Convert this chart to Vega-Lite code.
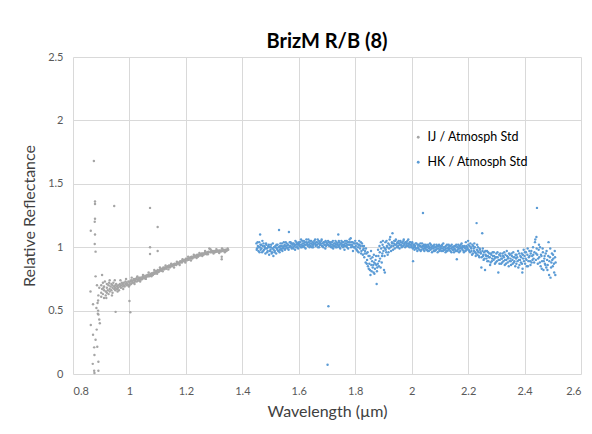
{
"$schema":"https://vega.github.io/schema/vega-lite/v6.json",
"width":508,"height":317,"autosize":{"type":"none"},
"padding":{"left":73,"top":57,"right":11,"bottom":60},
"background":"white",
"title":{"text":"BrizM R/B (8)","fontSize":20,"fontWeight":"bold","font":"Lato","color":"#000000","offset":-1,"anchor":"middle"},
"datasets":{
"ij":[
{"w":0.874,"r":1.68},{"w":0.878,"r":1.36},{"w":0.878,"r":1.34},{"w":0.946,"r":1.325},{"w":1.073,"r":1.31},{"w":0.878,"r":1.225},{"w":0.877,"r":1.2},{"w":0.863,"r":1.13},{"w":0.878,"r":1.1},{"w":1.1,"r":1.16},{"w":0.877,"r":1.025},{"w":1.073,"r":1.0},{"w":0.88,"r":0.965},{"w":1.073,"r":0.946},{"w":1.1,"r":0.97},{"w":0.88,"r":0.77},{"w":0.903,"r":0.78},{"w":0.862,"r":0.65},{"w":0.871,"r":0.55},{"w":0.889,"r":0.58},{"w":0.888,"r":0.475},{"w":0.889,"r":0.5},{"w":0.951,"r":0.49},{"w":1.003,"r":0.487},{"w":1.0,"r":0.575},{"w":0.895,"r":0.4},{"w":0.863,"r":0.386},{"w":0.871,"r":0.31},{"w":0.886,"r":0.215},{"w":0.875,"r":0.21},{"w":0.876,"r":0.15},{"w":0.89,"r":0.097},{"w":0.87,"r":0.08},{"w":0.875,"r":0.026},{"w":0.89,"r":0.026},{"w":0.876,"r":0.008},{"w":1.327,"r":0.925},{"w":1.327,"r":0.905},{"w":0.884,"r":0.35},{"w":0.893,"r":0.43},{"w":0.88,"r":0.27},
{"w":0.885,"r":0.7},{"w":0.89,"r":0.62},{"w":0.887,"r":0.56},{"w":0.893,"r":0.68},{"w":0.883,"r":0.52},{"w":0.89,"r":0.47},
{"w":0.9,"r":0.7},{"w":0.9,"r":0.64},{"w":0.9,"r":0.61},{"w":0.903,"r":0.67},{"w":0.906,"r":0.72},{"w":0.906,"r":0.63},{"w":0.91,"r":0.69},{"w":0.91,"r":0.6},{"w":0.91,"r":0.66},{"w":0.913,"r":0.73},{"w":0.916,"r":0.65},{"w":0.916,"r":0.62},{"w":0.92,"r":0.68},{"w":0.92,"r":0.71},{"w":0.92,"r":0.64},{"w":0.923,"r":0.66},{"w":0.926,"r":0.7},{"w":0.926,"r":0.63},{"w":0.93,"r":0.67},{"w":0.93,"r":0.74},{"w":0.93,"r":0.65},{"w":0.933,"r":0.69},{"w":0.936,"r":0.66},{"w":0.936,"r":0.71},{"w":0.94,"r":0.68},{"w":0.94,"r":0.64},{"w":0.94,"r":0.7},{"w":0.943,"r":0.72},{"w":0.946,"r":0.67},{"w":0.946,"r":0.69},{"w":0.95,"r":0.7},{"w":0.95,"r":0.66},{"w":0.95,"r":0.68},{"w":0.953,"r":0.71},{"w":0.956,"r":0.67},{"w":0.956,"r":0.69},{"w":0.96,"r":0.7},{"w":0.96,"r":0.68},{"w":0.963,"r":0.66},{"w":0.966,"r":0.71},{"w":0.966,"r":0.69},{"w":0.97,"r":0.7},{"w":0.97,"r":0.68},{"w":0.973,"r":0.72},{"w":0.976,"r":0.69},{"w":0.976,"r":0.71},{"w":0.98,"r":0.7},{"w":0.98,"r":0.72},{"w":0.983,"r":0.69},{"w":0.986,"r":0.71},{"w":0.986,"r":0.73},{"w":0.99,"r":0.7},{"w":0.99,"r":0.72},{"w":0.993,"r":0.71},{"w":0.996,"r":0.73},{"w":0.996,"r":0.7},
{"w":1.0,"r":0.72},{"w":1.0,"r":0.7},{"w":1.003,"r":0.73},{"w":1.006,"r":0.71},{"w":1.006,"r":0.74},{"w":1.01,"r":0.73},{"w":1.01,"r":0.72},{"w":1.013,"r":0.74},{"w":1.016,"r":0.72},{"w":1.016,"r":0.75},{"w":1.02,"r":0.74},{"w":1.02,"r":0.73},{"w":1.023,"r":0.75},{"w":1.026,"r":0.73},{"w":1.026,"r":0.76},{"w":1.03,"r":0.745},{"w":1.03,"r":0.735},{"w":1.033,"r":0.755},{"w":1.036,"r":0.74},{"w":1.036,"r":0.76},{"w":1.04,"r":0.75},{"w":1.04,"r":0.76},{"w":1.043,"r":0.745},{"w":1.046,"r":0.765},{"w":1.046,"r":0.75},{"w":1.05,"r":0.76},{"w":1.05,"r":0.77},{"w":1.053,"r":0.755},{"w":1.056,"r":0.775},{"w":1.056,"r":0.76},{"w":1.06,"r":0.77},{"w":1.06,"r":0.765},{"w":1.063,"r":0.78},{"w":1.066,"r":0.77},{"w":1.066,"r":0.78},{"w":1.07,"r":0.785},{"w":1.07,"r":0.77},{"w":1.073,"r":0.775},{"w":1.076,"r":0.79},{"w":1.076,"r":0.78},{"w":1.08,"r":0.785},{"w":1.08,"r":0.795},{"w":1.083,"r":0.78},{"w":1.086,"r":0.8},{"w":1.086,"r":0.79},{"w":1.09,"r":0.8},{"w":1.09,"r":0.79},{"w":1.093,"r":0.81},{"w":1.096,"r":0.8},{"w":1.096,"r":0.81},
{"w":1.1,"r":0.81},{"w":1.1,"r":0.82},{"w":1.103,"r":0.805},{"w":1.106,"r":0.82},{"w":1.106,"r":0.81},{"w":1.11,"r":0.82},{"w":1.11,"r":0.83},{"w":1.113,"r":0.815},{"w":1.116,"r":0.83},{"w":1.116,"r":0.825},{"w":1.12,"r":0.83},{"w":1.12,"r":0.84},{"w":1.123,"r":0.825},{"w":1.126,"r":0.835},{"w":1.126,"r":0.84},{"w":1.13,"r":0.84},{"w":1.13,"r":0.83},{"w":1.133,"r":0.845},{"w":1.136,"r":0.84},{"w":1.136,"r":0.85},{"w":1.14,"r":0.845},{"w":1.14,"r":0.855},{"w":1.143,"r":0.84},{"w":1.146,"r":0.85},{"w":1.146,"r":0.86},{"w":1.15,"r":0.855},{"w":1.15,"r":0.85},{"w":1.153,"r":0.86},{"w":1.156,"r":0.855},{"w":1.156,"r":0.865},{"w":1.16,"r":0.86},{"w":1.16,"r":0.87},{"w":1.163,"r":0.865},{"w":1.166,"r":0.87},{"w":1.166,"r":0.86},{"w":1.17,"r":0.87},{"w":1.17,"r":0.88},{"w":1.173,"r":0.875},{"w":1.176,"r":0.88},{"w":1.176,"r":0.87},{"w":1.18,"r":0.88},{"w":1.18,"r":0.89},{"w":1.183,"r":0.885},{"w":1.186,"r":0.89},{"w":1.186,"r":0.88},{"w":1.19,"r":0.89},{"w":1.19,"r":0.9},{"w":1.193,"r":0.895},{"w":1.196,"r":0.9},{"w":1.196,"r":0.89},
{"w":1.2,"r":0.9},{"w":1.2,"r":0.91},{"w":1.203,"r":0.895},{"w":1.206,"r":0.91},{"w":1.206,"r":0.905},{"w":1.21,"r":0.91},{"w":1.21,"r":0.9},{"w":1.213,"r":0.915},{"w":1.216,"r":0.91},{"w":1.216,"r":0.92},{"w":1.22,"r":0.915},{"w":1.22,"r":0.925},{"w":1.223,"r":0.91},{"w":1.226,"r":0.92},{"w":1.226,"r":0.925},{"w":1.23,"r":0.92},{"w":1.23,"r":0.93},{"w":1.233,"r":0.925},{"w":1.236,"r":0.93},{"w":1.236,"r":0.935},{"w":1.24,"r":0.93},{"w":1.24,"r":0.94},{"w":1.243,"r":0.925},{"w":1.246,"r":0.935},{"w":1.246,"r":0.94},{"w":1.25,"r":0.94},{"w":1.25,"r":0.935},{"w":1.253,"r":0.945},{"w":1.256,"r":0.94},{"w":1.256,"r":0.95},{"w":1.26,"r":0.945},{"w":1.26,"r":0.95},{"w":1.263,"r":0.94},{"w":1.266,"r":0.955},{"w":1.266,"r":0.95},{"w":1.27,"r":0.95},{"w":1.27,"r":0.96},{"w":1.273,"r":0.945},{"w":1.276,"r":0.96},{"w":1.276,"r":0.955},{"w":1.28,"r":0.96},{"w":1.28,"r":0.965},{"w":1.283,"r":0.99},{"w":1.286,"r":0.96},{"w":1.286,"r":0.985},{"w":1.29,"r":0.965},{"w":1.29,"r":0.96},{"w":1.293,"r":0.97},{"w":1.296,"r":0.96},{"w":1.296,"r":0.965},
{"w":1.3,"r":0.965},{"w":1.3,"r":0.97},{"w":1.303,"r":0.96},{"w":1.306,"r":0.97},{"w":1.306,"r":0.965},{"w":1.31,"r":0.97},{"w":1.31,"r":0.965},{"w":1.313,"r":0.975},{"w":1.316,"r":0.965},{"w":1.316,"r":0.97},{"w":1.32,"r":0.97},{"w":1.32,"r":0.975},{"w":1.323,"r":0.965},{"w":1.326,"r":0.975},{"w":1.326,"r":0.97},{"w":1.33,"r":0.97},{"w":1.33,"r":0.975},{"w":1.333,"r":0.98},{"w":1.336,"r":0.97},{"w":1.336,"r":0.975},{"w":1.34,"r":0.975},{"w":1.34,"r":0.98},{"w":1.343,"r":0.97},{"w":1.346,"r":0.98},{"w":1.346,"r":0.975},{"w":1.35,"r":0.98},
{"w":0.908,"r":0.68},{"w":0.918,"r":0.6},{"w":0.928,"r":0.72},{"w":0.938,"r":0.62},{"w":0.948,"r":0.74},{"w":0.958,"r":0.65},{"w":0.968,"r":0.74},{"w":0.978,"r":0.67},{"w":0.988,"r":0.75},{"w":0.998,"r":0.69},{"w":1.008,"r":0.76},{"w":1.018,"r":0.71},{"w":1.028,"r":0.77},{"w":1.038,"r":0.73},{"w":1.048,"r":0.78},{"w":1.058,"r":0.75},{"w":1.068,"r":0.8},{"w":1.078,"r":0.77},{"w":1.088,"r":0.82},{"w":1.098,"r":0.79},{"w":1.108,"r":0.84},{"w":1.118,"r":0.81},{"w":1.128,"r":0.855},{"w":1.138,"r":0.825},{"w":1.148,"r":0.87},{"w":1.158,"r":0.84},{"w":1.168,"r":0.885},{"w":1.178,"r":0.86},{"w":1.188,"r":0.905},{"w":1.198,"r":0.88},{"w":1.208,"r":0.925},{"w":1.218,"r":0.895},{"w":1.228,"r":0.94},{"w":1.238,"r":0.915},{"w":1.248,"r":0.955},{"w":1.258,"r":0.93},{"w":1.268,"r":0.97},{"w":1.278,"r":0.945},{"w":1.288,"r":0.98},{"w":1.298,"r":0.95},{"w":1.308,"r":0.985},{"w":1.318,"r":0.955},{"w":1.328,"r":0.99},{"w":1.338,"r":0.96},{"w":1.348,"r":0.99}
],
"hk":[
{"w":1.45,"r":1.03},{"w":1.452,"r":0.99},{"w":1.455,"r":1.01},{"w":1.457,"r":0.97},{"w":1.46,"r":1.04},{"w":1.462,"r":1.0},{"w":1.463,"r":1.1},{"w":1.465,"r":0.98},{"w":1.467,"r":1.02},{"w":1.47,"r":0.96},{"w":1.472,"r":1.01},{"w":1.475,"r":1.03},{"w":1.477,"r":0.98},{"w":1.48,"r":1.0},{"w":1.482,"r":0.95},{"w":1.485,"r":1.02},{"w":1.487,"r":0.99},{"w":1.49,"r":0.97},{"w":1.492,"r":1.01},{"w":1.495,"r":0.94},{"w":1.497,"r":1.0},
{"w":1.5,"r":0.98},{"w":1.502,"r":1.02},{"w":1.505,"r":0.96},{"w":1.507,"r":0.99},{"w":1.51,"r":0.93},{"w":1.512,"r":1.0},{"w":1.515,"r":0.97},{"w":1.517,"r":1.01},{"w":1.52,"r":0.95},{"w":1.522,"r":0.99},{"w":1.525,"r":1.02},{"w":1.527,"r":0.97},{"w":1.53,"r":1.135},{"w":1.531,"r":1.0},{"w":1.533,"r":0.98},{"w":1.535,"r":1.03},{"w":1.537,"r":0.99},{"w":1.54,"r":1.01},{"w":1.542,"r":0.97},{"w":1.545,"r":1.0},{"w":1.547,"r":1.04},{"w":1.55,"r":1.02},{"w":1.552,"r":0.99},
{"w":1.555,"r":1.01},{"w":1.557,"r":1.03},{"w":1.56,"r":0.99},{"w":1.562,"r":1.02},{"w":1.565,"r":1.12},{"w":1.566,"r":1.0},{"w":1.568,"r":1.04},{"w":1.57,"r":1.01},{"w":1.572,"r":1.03},{"w":1.575,"r":0.99},{"w":1.577,"r":1.02},{"w":1.58,"r":1.0},{"w":1.582,"r":1.03},{"w":1.585,"r":1.01},{"w":1.587,"r":0.98},{"w":1.59,"r":1.02},{"w":1.592,"r":1.04},{"w":1.595,"r":1.0},{"w":1.597,"r":1.02},
{"w":1.6,"r":1.03},{"w":1.602,"r":1.01},{"w":1.605,"r":1.04},{"w":1.607,"r":1.0},{"w":1.61,"r":1.02},{"w":1.612,"r":1.05},{"w":1.615,"r":1.01},{"w":1.617,"r":1.03},{"w":1.62,"r":1.0},{"w":1.622,"r":1.04},{"w":1.625,"r":1.02},{"w":1.627,"r":1.06},{"w":1.63,"r":1.03},{"w":1.632,"r":1.01},{"w":1.635,"r":1.04},{"w":1.637,"r":1.02},{"w":1.64,"r":1.05},{"w":1.642,"r":1.01},{"w":1.645,"r":1.03},{"w":1.647,"r":1.0},{"w":1.65,"r":1.04},{"w":1.652,"r":1.02},
{"w":1.655,"r":1.05},{"w":1.657,"r":1.03},{"w":1.66,"r":1.01},{"w":1.662,"r":1.04},{"w":1.665,"r":1.02},{"w":1.667,"r":1.06},{"w":1.67,"r":1.03},{"w":1.672,"r":1.0},{"w":1.675,"r":1.04},{"w":1.677,"r":1.02},{"w":1.68,"r":1.05},{"w":1.682,"r":1.01},{"w":1.685,"r":1.03},{"w":1.687,"r":1.0},{"w":1.69,"r":1.04},{"w":1.692,"r":1.02},{"w":1.695,"r":1.05},{"w":1.697,"r":1.01},{"w":1.7,"r":1.03},{"w":1.705,"r":0.534},{"w":1.702,"r":0.073},
{"w":1.705,"r":1.02},{"w":1.707,"r":1.04},{"w":1.71,"r":1.01},{"w":1.712,"r":1.03},{"w":1.715,"r":1.0},{"w":1.717,"r":1.04},{"w":1.72,"r":1.02},{"w":1.722,"r":0.99},{"w":1.725,"r":1.03},{"w":1.727,"r":1.01},{"w":1.73,"r":1.05},{"w":1.732,"r":1.02},{"w":1.735,"r":1.0},{"w":1.737,"r":1.03},{"w":1.74,"r":1.1},{"w":1.741,"r":1.01},{"w":1.743,"r":1.04},{"w":1.745,"r":1.02},{"w":1.747,"r":0.99},{"w":1.75,"r":1.03},{"w":1.752,"r":1.01},
{"w":1.755,"r":1.04},{"w":1.757,"r":1.0},{"w":1.76,"r":1.02},{"w":1.762,"r":0.98},{"w":1.765,"r":1.03},{"w":1.767,"r":1.01},{"w":1.77,"r":1.05},{"w":1.772,"r":1.02},{"w":1.775,"r":0.99},{"w":1.777,"r":1.04},{"w":1.78,"r":1.06},{"w":1.782,"r":1.02},{"w":1.785,"r":1.0},{"w":1.787,"r":1.04},{"w":1.79,"r":1.01},{"w":1.792,"r":0.97},{"w":1.795,"r":1.03},{"w":1.797,"r":1.0},{"w":1.8,"r":1.05},{"w":1.802,"r":1.01},
{"w":1.805,"r":0.98},{"w":1.807,"r":1.03},{"w":1.81,"r":1.0},{"w":1.812,"r":0.96},{"w":1.815,"r":1.02},{"w":1.817,"r":0.99},{"w":1.82,"r":1.04},{"w":1.822,"r":0.97},{"w":1.825,"r":1.01},{"w":1.827,"r":0.94},{"w":1.83,"r":0.99},{"w":1.832,"r":0.92},{"w":1.835,"r":0.97},{"w":1.837,"r":0.88},{"w":1.84,"r":0.95},{"w":1.842,"r":0.9},{"w":1.845,"r":0.85},{"w":1.847,"r":0.93},{"w":1.85,"r":0.87},{"w":1.852,"r":0.82},{"w":1.855,"r":0.91},{"w":1.857,"r":0.86},{"w":1.86,"r":0.89},{"w":1.862,"r":0.84},{"w":1.865,"r":0.8},{"w":1.867,"r":0.88},{"w":1.87,"r":0.83},{"w":1.872,"r":0.9},{"w":1.875,"r":0.86},{"w":1.876,"r":0.71},{"w":1.877,"r":0.81},{"w":1.88,"r":0.87},{"w":1.882,"r":0.93},{"w":1.885,"r":0.89},{"w":1.887,"r":0.96},{"w":1.89,"r":0.84},{"w":1.892,"r":0.99},{"w":1.895,"r":0.93},{"w":1.897,"r":1.02},{"w":1.9,"r":0.97},{"w":1.902,"r":0.82},{"w":1.905,"r":0.8},{"w":1.906,"r":0.99},{"w":1.907,"r":1.04},{"w":1.91,"r":0.96},{"w":1.912,"r":1.01},{"w":1.915,"r":0.94},{"w":1.917,"r":1.03},{"w":1.92,"r":0.99},{"w":1.922,"r":1.06},{"w":1.925,"r":1.0},{"w":1.927,"r":0.97},{"w":1.93,"r":1.04},{"w":1.932,"r":1.11},{"w":1.935,"r":1.01},{"w":1.937,"r":1.03},
{"w":1.94,"r":0.99},{"w":1.942,"r":1.05},{"w":1.945,"r":1.02},{"w":1.947,"r":1.0},{"w":1.95,"r":1.04},{"w":1.952,"r":1.01},{"w":1.955,"r":1.03},{"w":1.957,"r":0.99},{"w":1.96,"r":1.05},{"w":1.962,"r":1.02},{"w":1.965,"r":1.0},{"w":1.967,"r":1.04},{"w":1.97,"r":1.01},{"w":1.972,"r":1.06},{"w":1.975,"r":1.03},{"w":1.977,"r":1.0},{"w":1.98,"r":1.04},{"w":1.982,"r":1.02},{"w":1.985,"r":1.05},{"w":1.987,"r":1.01},{"w":1.99,"r":1.03},{"w":1.992,"r":1.0},{"w":1.995,"r":1.04},{"w":1.997,"r":1.02},
{"w":2.0,"r":1.01},{"w":2.002,"r":1.04},{"w":2.005,"r":0.89},{"w":2.006,"r":1.0},{"w":2.007,"r":1.02},{"w":2.01,"r":0.98},{"w":2.012,"r":1.01},{"w":2.015,"r":0.99},{"w":2.017,"r":1.03},{"w":2.02,"r":0.97},{"w":2.022,"r":1.0},{"w":2.025,"r":1.02},{"w":2.027,"r":0.98},{"w":2.03,"r":1.01},{"w":2.032,"r":0.97},{"w":2.035,"r":1.0},{"w":2.037,"r":1.03},{"w":2.04,"r":1.27},{"w":2.041,"r":0.99},{"w":2.043,"r":1.01},{"w":2.045,"r":0.97},{"w":2.047,"r":1.0},{"w":2.05,"r":1.02},{"w":2.052,"r":0.98},
{"w":2.055,"r":1.0},{"w":2.057,"r":0.97},{"w":2.06,"r":1.01},{"w":2.062,"r":0.99},{"w":2.065,"r":1.03},{"w":2.067,"r":0.98},{"w":2.07,"r":1.0},{"w":2.072,"r":0.96},{"w":2.075,"r":1.01},{"w":2.077,"r":0.99},{"w":2.08,"r":1.02},{"w":2.082,"r":0.97},{"w":2.085,"r":1.0},{"w":2.087,"r":0.98},{"w":2.09,"r":1.01},{"w":2.092,"r":0.96},{"w":2.095,"r":0.99},{"w":2.097,"r":1.02},{"w":2.1,"r":0.98},{"w":2.102,"r":1.0},
{"w":2.105,"r":0.97},{"w":2.107,"r":1.01},{"w":2.11,"r":0.99},{"w":2.112,"r":1.03},{"w":2.115,"r":0.98},{"w":2.117,"r":1.0},{"w":2.12,"r":0.96},{"w":2.122,"r":0.99},{"w":2.125,"r":1.02},{"w":2.127,"r":0.97},{"w":2.13,"r":1.0},{"w":2.132,"r":0.98},{"w":2.135,"r":1.01},{"w":2.137,"r":0.97},{"w":2.14,"r":0.99},{"w":2.142,"r":1.02},{"w":2.145,"r":0.98},{"w":2.147,"r":1.0},{"w":2.15,"r":0.96},{"w":2.152,"r":0.99},
{"w":2.155,"r":1.01},{"w":2.157,"r":0.97},{"w":2.16,"r":0.905},{"w":2.161,"r":1.0},{"w":2.163,"r":0.98},{"w":2.165,"r":1.02},{"w":2.167,"r":0.99},{"w":2.17,"r":1.01},{"w":2.172,"r":0.97},{"w":2.175,"r":1.0},{"w":2.177,"r":1.03},{"w":2.18,"r":0.98},{"w":2.182,"r":1.0},{"w":2.185,"r":0.96},{"w":2.187,"r":1.01},{"w":2.19,"r":0.99},{"w":2.192,"r":1.04},{"w":2.195,"r":0.98},{"w":2.197,"r":1.0},
{"w":2.2,"r":1.05},{"w":2.202,"r":0.98},{"w":2.205,"r":1.01},{"w":2.207,"r":0.96},{"w":2.21,"r":1.0},{"w":2.212,"r":0.97},{"w":2.215,"r":1.02},{"w":2.217,"r":0.95},{"w":2.22,"r":0.99},{"w":2.222,"r":1.03},{"w":2.225,"r":0.96},{"w":2.227,"r":0.93},{"w":2.23,"r":1.19},{"w":2.231,"r":0.98},{"w":2.233,"r":0.94},{"w":2.235,"r":1.0},{"w":2.237,"r":0.96},{"w":2.24,"r":0.92},{"w":2.242,"r":0.98},{"w":2.245,"r":0.95},{"w":2.247,"r":0.84},{"w":2.25,"r":1.11},{"w":2.251,"r":0.97},{"w":2.253,"r":0.93},{"w":2.255,"r":0.9},{"w":2.257,"r":0.96},{"w":2.26,"r":0.82},{"w":2.262,"r":0.94},{"w":2.265,"r":0.91},{"w":2.267,"r":0.97},{"w":2.27,"r":0.93},{"w":2.272,"r":0.89},{"w":2.275,"r":0.95},{"w":2.277,"r":0.92},{"w":2.28,"r":0.88},{"w":2.282,"r":0.94},{"w":2.285,"r":0.91},{"w":2.287,"r":0.96},{"w":2.29,"r":0.9},{"w":2.292,"r":0.93},{"w":2.295,"r":0.87},{"w":2.297,"r":0.92},
{"w":2.3,"r":0.95},{"w":2.302,"r":0.89},{"w":2.305,"r":0.92},{"w":2.307,"r":0.8},{"w":2.31,"r":0.94},{"w":2.312,"r":0.9},{"w":2.315,"r":0.93},{"w":2.317,"r":0.87},{"w":2.32,"r":0.91},{"w":2.322,"r":0.95},{"w":2.325,"r":0.89},{"w":2.327,"r":0.92},{"w":2.33,"r":0.86},{"w":2.332,"r":0.94},{"w":2.335,"r":0.9},{"w":2.337,"r":0.97},{"w":2.34,"r":0.88},{"w":2.342,"r":0.92},{"w":2.345,"r":0.95},{"w":2.347,"r":0.89},{"w":2.35,"r":0.91},{"w":2.352,"r":0.86},
{"w":2.355,"r":0.93},{"w":2.357,"r":0.9},{"w":2.36,"r":0.96},{"w":2.362,"r":0.88},{"w":2.365,"r":0.92},{"w":2.367,"r":0.85},{"w":2.37,"r":0.91},{"w":2.372,"r":0.94},{"w":2.375,"r":0.89},{"w":2.377,"r":0.97},{"w":2.38,"r":0.9},{"w":2.382,"r":0.86},{"w":2.385,"r":0.93},{"w":2.387,"r":0.88},{"w":2.39,"r":0.95},{"w":2.392,"r":0.8},{"w":2.393,"r":0.83},{"w":2.395,"r":0.91},{"w":2.397,"r":0.98},
{"w":2.4,"r":0.93},{"w":2.402,"r":0.87},{"w":2.405,"r":0.96},{"w":2.407,"r":0.9},{"w":2.41,"r":0.94},{"w":2.412,"r":0.85},{"w":2.415,"r":0.92},{"w":2.417,"r":0.97},{"w":2.42,"r":0.89},{"w":2.422,"r":0.95},{"w":2.425,"r":0.88},{"w":2.427,"r":0.93},{"w":2.43,"r":1.0},{"w":2.432,"r":0.91},{"w":2.435,"r":0.96},{"w":2.437,"r":1.04},{"w":2.44,"r":0.9},{"w":2.442,"r":1.08},{"w":2.444,"r":1.31},{"w":2.445,"r":0.94},{"w":2.447,"r":0.87},{"w":2.45,"r":0.98},{"w":2.452,"r":0.92},{"w":2.455,"r":1.0},{"w":2.457,"r":0.85},{"w":2.46,"r":0.93},{"w":2.462,"r":0.89},{"w":2.465,"r":0.96},{"w":2.467,"r":0.82},{"w":2.47,"r":0.91},{"w":2.472,"r":0.87},{"w":2.475,"r":0.95},{"w":2.477,"r":0.84},{"w":2.48,"r":0.9},{"w":2.482,"r":0.86},{"w":2.485,"r":1.04},{"w":2.487,"r":0.78},{"w":2.49,"r":0.92},{"w":2.492,"r":0.76},{"w":2.495,"r":0.88},{"w":2.497,"r":0.95},{"w":2.5,"r":0.85},{"w":2.502,"r":0.91},{"w":2.505,"r":0.8},{"w":2.507,"r":0.97},{"w":2.51,"r":0.88},
{"w":1.451,"r":0.98},{"w":1.454,"r":1.04},{"w":1.458,"r":1.0},{"w":1.461,"r":0.96},{"w":1.464,"r":1.02},{"w":1.468,"r":0.99},{"w":1.471,"r":1.05},{"w":1.474,"r":0.97},{"w":1.478,"r":1.01},{"w":1.481,"r":0.99},{"w":1.484,"r":1.03},{"w":1.488,"r":0.96},{"w":1.491,"r":1.0},{"w":1.494,"r":1.02},{"w":1.498,"r":0.97},
{"w":1.501,"r":1.0},{"w":1.504,"r":0.95},{"w":1.508,"r":1.03},{"w":1.511,"r":0.98},{"w":1.514,"r":0.96},{"w":1.518,"r":1.0},{"w":1.521,"r":1.02},{"w":1.524,"r":0.98},{"w":1.528,"r":1.0},{"w":1.532,"r":0.96},{"w":1.534,"r":1.01},{"w":1.538,"r":0.98},{"w":1.541,"r":1.03},{"w":1.544,"r":0.99},{"w":1.548,"r":1.01},
{"w":1.551,"r":0.98},{"w":1.554,"r":1.04},{"w":1.558,"r":1.0},{"w":1.561,"r":1.02},{"w":1.564,"r":0.98},{"w":1.569,"r":1.01},{"w":1.571,"r":1.04},{"w":1.574,"r":1.0},{"w":1.578,"r":1.03},{"w":1.581,"r":0.99},{"w":1.584,"r":1.02},{"w":1.588,"r":1.05},{"w":1.591,"r":1.0},{"w":1.594,"r":1.03},{"w":1.598,"r":0.99},
{"w":1.601,"r":1.04},{"w":1.604,"r":1.02},{"w":1.608,"r":1.06},{"w":1.611,"r":1.0},{"w":1.614,"r":1.03},{"w":1.618,"r":1.05},{"w":1.621,"r":1.02},{"w":1.624,"r":0.99},{"w":1.628,"r":1.04},{"w":1.631,"r":1.02},{"w":1.634,"r":1.06},{"w":1.638,"r":1.0},{"w":1.641,"r":1.03},{"w":1.644,"r":1.05},{"w":1.648,"r":1.02},
{"w":1.651,"r":1.0},{"w":1.654,"r":1.03},{"w":1.658,"r":1.06},{"w":1.661,"r":1.02},{"w":1.664,"r":1.04},{"w":1.668,"r":1.0},{"w":1.671,"r":1.05},{"w":1.674,"r":1.02},{"w":1.678,"r":1.03},{"w":1.681,"r":1.06},{"w":1.684,"r":1.01},{"w":1.688,"r":1.04},{"w":1.691,"r":1.02},{"w":1.694,"r":0.99},{"w":1.698,"r":1.04},
{"w":1.701,"r":1.02},{"w":1.704,"r":1.05},{"w":1.708,"r":1.01},{"w":1.711,"r":1.04},{"w":1.714,"r":1.02},{"w":1.718,"r":1.0},{"w":1.721,"r":1.05},{"w":1.724,"r":1.01},{"w":1.728,"r":1.03},{"w":1.731,"r":1.0},{"w":1.734,"r":1.04},{"w":1.738,"r":1.02},{"w":1.742,"r":1.05},{"w":1.744,"r":1.0},{"w":1.748,"r":1.03},
{"w":1.751,"r":1.05},{"w":1.754,"r":1.02},{"w":1.758,"r":1.04},{"w":1.761,"r":1.01},{"w":1.764,"r":1.05},{"w":1.768,"r":1.03},{"w":1.771,"r":1.0},{"w":1.774,"r":1.04},{"w":1.778,"r":1.02},{"w":1.781,"r":1.04},{"w":1.784,"r":1.07},{"w":1.788,"r":1.02},{"w":1.791,"r":1.04},{"w":1.794,"r":1.0},{"w":1.798,"r":1.03},
{"w":1.801,"r":0.99},{"w":1.804,"r":1.03},{"w":1.808,"r":0.97},{"w":1.811,"r":1.02},{"w":1.814,"r":1.05},{"w":1.818,"r":1.01},{"w":1.821,"r":0.95},{"w":1.824,"r":1.03},{"w":1.828,"r":0.98},{"w":1.831,"r":1.01},{"w":1.834,"r":0.95},{"w":1.838,"r":0.99},{"w":1.841,"r":0.87},{"w":1.844,"r":0.96},{"w":1.848,"r":0.83},{"w":1.851,"r":0.93},{"w":1.854,"r":0.78},{"w":1.856,"r":0.97},{"w":1.858,"r":0.81},{"w":1.861,"r":0.92},{"w":1.864,"r":0.86},{"w":1.866,"r":0.94},{"w":1.868,"r":0.79},{"w":1.871,"r":0.87},{"w":1.874,"r":0.93},{"w":1.878,"r":0.84},{"w":1.881,"r":0.98},{"w":1.884,"r":0.85},{"w":1.886,"r":1.01},{"w":1.888,"r":0.91},{"w":1.891,"r":1.04},{"w":1.894,"r":0.88},{"w":1.896,"r":0.95},{"w":1.898,"r":1.05},{"w":1.901,"r":1.0},{"w":1.904,"r":0.93},{"w":1.908,"r":0.98},{"w":1.911,"r":1.05},{"w":1.914,"r":1.0},{"w":1.918,"r":0.96},{"w":1.921,"r":1.02},{"w":1.924,"r":1.08},{"w":1.928,"r":1.01},{"w":1.931,"r":1.03},{"w":1.934,"r":0.98},{"w":1.938,"r":1.05},
{"w":1.941,"r":1.02},{"w":1.944,"r":1.06},{"w":1.948,"r":1.03},{"w":1.951,"r":1.0},{"w":1.954,"r":1.05},{"w":1.958,"r":1.02},{"w":1.961,"r":1.04},{"w":1.964,"r":1.01},{"w":1.968,"r":1.03},{"w":1.971,"r":1.05},{"w":1.974,"r":1.02},{"w":1.978,"r":1.04},{"w":1.981,"r":1.01},{"w":1.984,"r":1.03},{"w":1.988,"r":1.06},{"w":1.991,"r":1.02},{"w":1.994,"r":1.04},{"w":1.998,"r":1.0},
{"w":2.001,"r":1.03},{"w":2.004,"r":0.99},{"w":2.008,"r":1.02},{"w":2.011,"r":1.0},{"w":2.014,"r":1.03},{"w":2.018,"r":0.99},{"w":2.021,"r":1.02},{"w":2.024,"r":0.99},{"w":2.028,"r":1.01},{"w":2.031,"r":1.03},{"w":2.034,"r":0.98},{"w":2.038,"r":1.01},{"w":2.042,"r":0.98},{"w":2.044,"r":1.02},{"w":2.048,"r":0.99},
{"w":2.051,"r":1.01},{"w":2.054,"r":0.98},{"w":2.058,"r":1.02},{"w":2.061,"r":0.97},{"w":2.064,"r":1.0},{"w":2.068,"r":1.02},{"w":2.071,"r":0.99},{"w":2.074,"r":1.01},{"w":2.078,"r":0.97},{"w":2.081,"r":1.0},{"w":2.084,"r":0.98},{"w":2.088,"r":1.02},{"w":2.091,"r":0.99},{"w":2.094,"r":1.01},{"w":2.098,"r":0.97},
{"w":2.101,"r":1.01},{"w":2.104,"r":0.99},{"w":2.108,"r":1.02},{"w":2.111,"r":0.97},{"w":2.114,"r":1.0},{"w":2.118,"r":0.98},{"w":2.121,"r":1.01},{"w":2.124,"r":0.97},{"w":2.128,"r":0.99},{"w":2.131,"r":1.02},{"w":2.134,"r":0.99},{"w":2.138,"r":1.01},{"w":2.141,"r":0.96},{"w":2.144,"r":1.0},{"w":2.148,"r":0.98},
{"w":2.151,"r":1.01},{"w":2.154,"r":0.98},{"w":2.158,"r":1.02},{"w":2.162,"r":0.97},{"w":2.164,"r":1.0},{"w":2.168,"r":0.96},{"w":2.171,"r":0.99},{"w":2.174,"r":1.02},{"w":2.178,"r":0.99},{"w":2.181,"r":1.01},{"w":2.184,"r":0.97},{"w":2.188,"r":1.0},{"w":2.191,"r":0.97},{"w":2.194,"r":1.01},{"w":2.198,"r":0.99},
{"w":2.201,"r":1.02},{"w":2.204,"r":0.97},{"w":2.208,"r":1.03},{"w":2.211,"r":0.99},{"w":2.214,"r":0.94},{"w":2.218,"r":1.01},{"w":2.221,"r":0.97},{"w":2.224,"r":1.0},{"w":2.228,"r":0.95},{"w":2.232,"r":1.02},{"w":2.234,"r":0.97},{"w":2.238,"r":0.93},{"w":2.241,"r":0.99},{"w":2.244,"r":0.96},{"w":2.248,"r":0.92},
{"w":2.252,"r":0.99},{"w":2.254,"r":0.94},{"w":2.258,"r":0.91},{"w":2.261,"r":0.97},{"w":2.264,"r":0.93},{"w":2.268,"r":0.89},{"w":2.271,"r":0.96},{"w":2.274,"r":0.92},{"w":2.278,"r":0.86},{"w":2.281,"r":0.95},{"w":2.284,"r":0.89},{"w":2.288,"r":0.93},{"w":2.291,"r":0.96},{"w":2.294,"r":0.91},{"w":2.298,"r":0.88},
{"w":2.301,"r":0.92},{"w":2.304,"r":0.96},{"w":2.308,"r":0.9},{"w":2.311,"r":0.87},{"w":2.314,"r":0.95},{"w":2.318,"r":0.91},{"w":2.321,"r":0.88},{"w":2.324,"r":0.93},{"w":2.328,"r":0.96},{"w":2.331,"r":0.9},{"w":2.334,"r":0.87},{"w":2.338,"r":0.93},{"w":2.341,"r":0.91},{"w":2.344,"r":0.85},{"w":2.348,"r":0.94},
{"w":2.351,"r":0.89},{"w":2.354,"r":0.95},{"w":2.358,"r":0.87},{"w":2.361,"r":0.92},{"w":2.364,"r":0.89},{"w":2.368,"r":0.94},{"w":2.371,"r":0.87},{"w":2.374,"r":0.92},{"w":2.378,"r":0.84},{"w":2.381,"r":0.95},{"w":2.384,"r":0.9},{"w":2.388,"r":0.92},{"w":2.391,"r":0.87},{"w":2.394,"r":0.94},{"w":2.398,"r":0.89},
{"w":2.401,"r":0.96},{"w":2.404,"r":0.91},{"w":2.408,"r":0.85},{"w":2.411,"r":0.99},{"w":2.414,"r":0.89},{"w":2.418,"r":0.93},{"w":2.421,"r":0.86},{"w":2.424,"r":0.97},{"w":2.428,"r":0.9},{"w":2.431,"r":0.94},{"w":2.434,"r":0.88},{"w":2.438,"r":1.06},{"w":2.441,"r":0.95},{"w":2.443,"r":0.99},{"w":2.448,"r":0.91},{"w":2.451,"r":1.02},{"w":2.454,"r":0.88},{"w":2.458,"r":0.94},{"w":2.461,"r":0.83},{"w":2.464,"r":0.99},{"w":2.468,"r":0.89},{"w":2.471,"r":0.93},{"w":2.474,"r":0.86},{"w":2.478,"r":0.97},{"w":2.481,"r":0.82},{"w":2.484,"r":0.93},{"w":2.488,"r":0.89},{"w":2.491,"r":0.99},{"w":2.494,"r":0.84},{"w":2.498,"r":0.9},{"w":2.501,"r":0.94},{"w":2.504,"r":0.87},{"w":2.508,"r":0.92},{"w":2.509,"r":0.78}
]
},
"encoding":{
"x":{"field":"w","type":"quantitative","scale":{"domain":[0.8,2.6],"nice":false,"zero":false},
"axis":{"values":[0.8,1,1.2,1.4,1.6,1.8,2,2.2,2.4,2.6],"format":"~g","title":"Wavelength (µm)","labelPadding":11,"titlePadding":7}},
"y":{"field":"r","type":"quantitative","scale":{"domain":[0,2.5],"nice":false},
"axis":{"values":[0,0.5,1,1.5,2,2.5],"format":"~g","title":"Relative Reflectance","labelPadding":10,"titlePadding":10}}
},
"layer":[
{"data":{"name":"ij"},"mark":{"type":"point","filled":true,"size":6,"opacity":1},
"encoding":{"color":{"datum":"IJ / Atmosph Std","type":"nominal",
"scale":{"domain":["IJ / Atmosph Std","HK / Atmosph Std"],"range":["#A5A5A5","#5B9BD5"]},
"legend":{"title":null,"orient":"none","legendX":339,"legendY":74,"symbolSize":8,"symbolType":"circle","labelFontSize":12.5,"labelFont":"Lato","rowPadding":12,"labelOffset":3,"padding":0,"symbolStrokeWidth":0,
"encode":{"labels":{"update":{"fill":{"scale":"color","field":"value"}}}}}}}},
{"data":{"name":"hk"},"mark":{"type":"point","filled":true,"size":6,"opacity":1},
"encoding":{"color":{"datum":"HK / Atmosph Std","type":"nominal"}}}
],
"config":{
"view":{"stroke":null},
"axis":{"grid":true,"gridColor":"#d9d9d9","gridWidth":1,"domain":false,"ticks":false,"labelFont":"Lato","labelFontSize":11,"labelColor":"#595959","titleFont":"Lato","titleFontSize":16,"titleFontWeight":"normal","titleColor":"#404040"}
}
}
